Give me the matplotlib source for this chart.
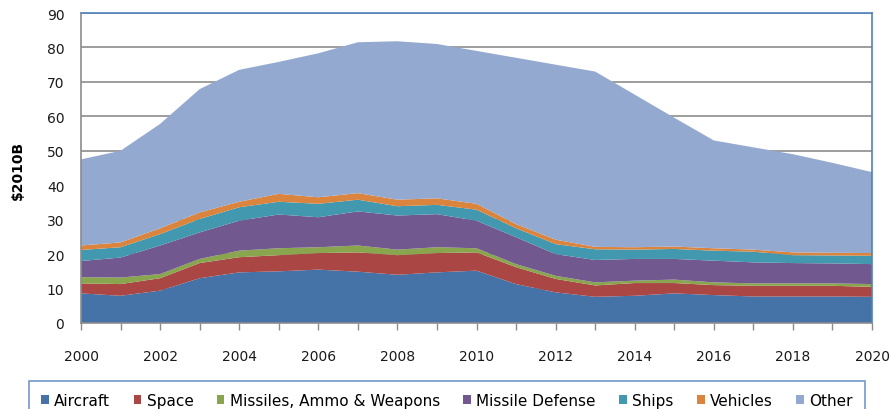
import numpy as np
import matplotlib
matplotlib.use("Agg")
import matplotlib.pyplot as plt
from matplotlib.patches import Patch

years = list(range(2000, 2021))

aircraft = [8.6, 7.9, 9.4, 13.0, 14.7, 15.0, 15.5, 14.9, 14.0, 14.7, 15.2,
            11.3, 8.9, 7.6, 7.9, 8.6, 8.1, 7.7, 7.7, 7.7, 7.6]
space = [2.9, 3.4, 3.6, 4.4, 4.4, 4.7, 4.8, 5.6, 5.7, 5.6, 5.3,
         4.9, 3.9, 3.3, 3.7, 3.0, 2.9, 3.1, 3.1, 3.1, 2.9]
missiles = [1.8, 1.9, 1.2, 1.2, 1.9, 2.0, 1.7, 2.0, 1.6, 1.7, 1.2,
            0.9, 0.9, 0.9, 0.7, 1.0, 0.8, 0.7, 0.7, 0.7, 0.8]
missile_def = [4.7, 5.8, 8.3, 7.7, 8.7, 9.8, 8.7, 9.9, 9.9, 9.6, 8.0,
               7.8, 6.3, 6.5, 6.3, 6.0, 6.3, 6.1, 5.9, 5.8, 5.8]
ships = [3.2, 3.0, 3.3, 3.9, 3.9, 3.7, 3.9, 3.4, 2.7, 2.7, 3.2,
         2.6, 2.9, 3.1, 2.7, 2.9, 2.9, 3.1, 2.3, 2.3, 2.4]
vehicles = [1.3, 1.4, 1.7, 1.9, 1.6, 2.3, 1.9, 1.9, 1.9, 1.9, 1.7,
            1.2, 1.3, 0.7, 0.7, 0.7, 0.7, 0.6, 0.8, 0.8, 0.8]
other = [25.0, 26.6, 30.3, 35.8, 38.3, 38.3, 41.8, 43.8, 46.0, 44.8, 44.4,
         48.3, 50.8, 50.9, 44.3, 37.4, 31.3, 29.7, 28.5, 26.1, 23.5]

labels = ["Aircraft", "Space", "Missiles, Ammo & Weapons", "Missile Defense",
          "Ships", "Vehicles", "Other"]
colors = ["#4572A7", "#AA4643", "#89A54E", "#71588F", "#4198AF", "#DB843D", "#93A9CF"]

fig = plt.figure(figsize=(8.93, 4.10), dpi=100)
ax = fig.add_axes([81 / 893, 86 / 410, 791 / 893, 310 / 410])

ax.stackplot(years, aircraft, space, missiles, missile_def, ships, vehicles, other,
             colors=colors, linewidth=0, zorder=2)

ax.set_xlim(2000, 2020)
ax.set_ylim(0, 90)
ax.set_yticks(range(0, 91, 10))
ax.set_xticks(range(2000, 2021, 2))
ax.set_xticks(range(2000, 2021), minor=True)
ax.yaxis.grid(True, color="#8c8c8c", linewidth=1.2, zorder=1)
ax.set_axisbelow(True)

for s in ["top", "right"]:
    ax.spines[s].set_color("#4F81BD")
    ax.spines[s].set_linewidth(1.2)
for s in ["left", "bottom"]:
    ax.spines[s].set_color("#8c8c8c")
    ax.spines[s].set_linewidth(1.2)
    ax.spines[s].set_zorder(3)

ax.tick_params(axis="y", length=0, pad=12, labelsize=10, labelcolor="#1a1a1a")
ax.tick_params(axis="x", which="both", length=5, color="#8c8c8c", width=1)
ax.tick_params(axis="x", which="major", pad=14, labelsize=10, labelcolor="#1a1a1a")

fig.text(18 / 893, 1 - 170 / 410, "$2010B", rotation=90, ha="center", va="center",
         fontsize=10, fontweight="bold")

# legend runs off the bottom edge like the original
handles = [Patch(facecolor=c, edgecolor="none") for c in colors]
leg = fig.legend(handles, labels, loc="upper left",
                 bbox_to_anchor=(29 / 893, 0, 836 / 893, 1 - 382 / 410), mode="expand",
                 ncol=7, frameon=True, fancybox=False, fontsize=11,
                 handlelength=0.5, handleheight=0.5, handletextpad=0.35,
                 columnspacing=1.15, borderpad=0.8, borderaxespad=0)
leg.get_frame().set_edgecolor("#4F81BD")
leg.get_frame().set_linewidth(1.2)

fig.savefig("out.png", dpi=100)
